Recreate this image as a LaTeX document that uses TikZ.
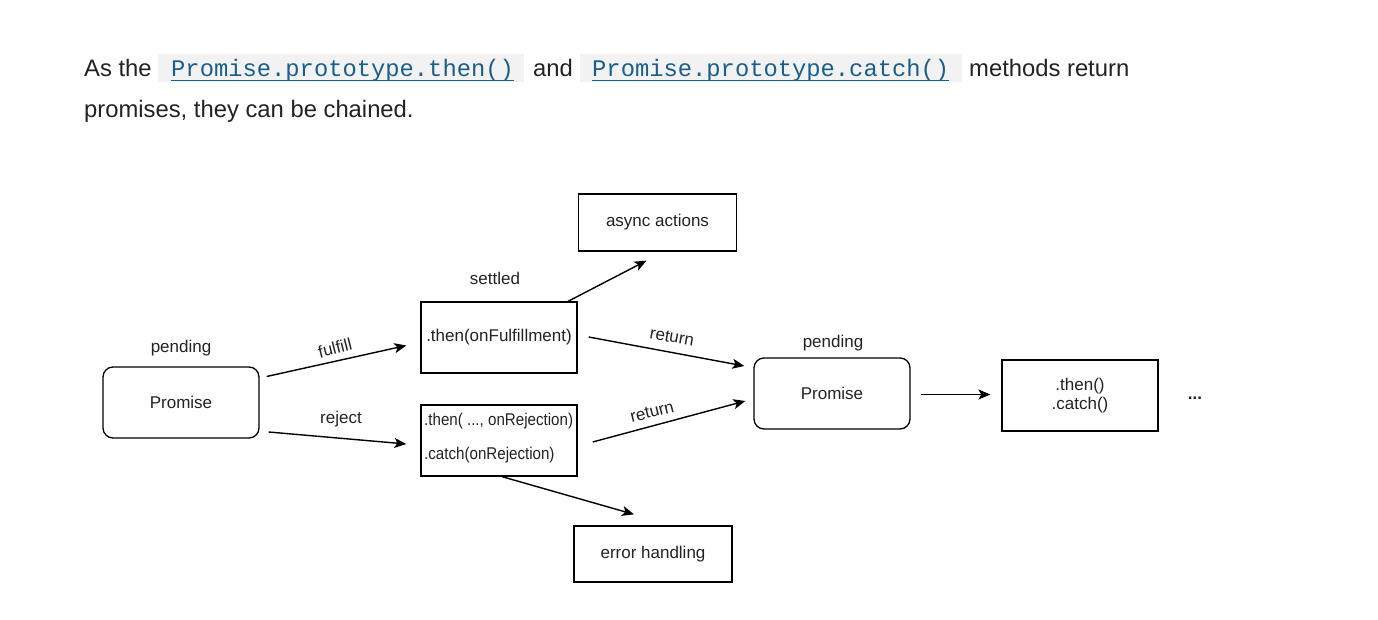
\documentclass[tikz,border=0pt]{standalone}
\usepackage{fontspec}
\setmainfont{Liberation Sans}
\setmonofont{Liberation Mono}
\newfontfamily\narrowsans[FakeStretch=0.89]{Liberation Sans}
\usetikzlibrary{arrows.meta,calc}
\definecolor{codeblue}{HTML}{1B5E8C}
\definecolor{codebg}{HTML}{F2F2F2}
\definecolor{txt}{HTML}{222222}
\begin{document}
\begin{tikzpicture}[x=1pt,y=-1pt,
  para/.style={inner sep=0pt, anchor=base west, text=txt, font=\fontsize{23.8}{28}\selectfont},
  code/.style={inner sep=0pt, anchor=base west, text=codeblue, font=\ttfamily\fontsize{23.8}{28}\selectfont},
  box/.style={draw=black, line width=1.3pt, minimum width=156pt, minimum height=71pt, inner sep=0pt, text=txt, font=\fontsize{17}{19}\selectfont, align=center},
  rbox/.style={box, rounded corners=10pt},
  lbl/.style={inner sep=0pt, text=txt, font=\fontsize{17}{19}\selectfont},
  arr/.style={line width=1.4pt, -{Stealth[length=12pt,width=10pt,inset=3pt]}}
]
\useasboundingbox (0,0) rectangle (1378,620);
% paragraph
\node[para] (t1) at (84,77) {As the};
\fill[codebg] (158,54) rectangle (524,82);
\node[code] (c1) at (171,77) {Promise.prototype.then()};
\node[para] (t2) at (533,77) {and};
\fill[codebg] (580,54) rectangle (962,82);
\node[code] (c2) at (592,77) {Promise.prototype.catch()};
\node[para] (t3) at (969,77) {methods return};
\node[para] (t4) at (84,118) {promises, they can be chained.};
\draw[codeblue, line width=1.3pt] ($(c1.base west)+(0,3.5)$) -- ($(c1.base east)+(0,3.5)$);
\draw[codeblue, line width=1.3pt] ($(c2.base west)+(0,3.5)$) -- ($(c2.base east)+(0,3.5)$);
% nodes
\node[rbox] (p1) at (181,402.5) {Promise};
\node[box] (ful) at (499,337.5) {.then(onFulfillment)};
\node[box] (rej) at (499,440.5) {};
\node[lbl, anchor=west, font=\narrowsans\fontsize{17}{19}\selectfont] (rej1) at (424,421) {.then( ..., onRejection)};
\node[lbl, anchor=west, font=\narrowsans\fontsize{17}{19}\selectfont] (rej2) at (424,455) {.catch(onRejection)};
\node[box, minimum width=158pt, minimum height=57pt] (async) at (657.5,222.5) {async actions};
\node[box, minimum width=158pt, minimum height=56pt] (err) at (653,554) {error handling};
\node[rbox] (p2) at (832,393.5) {Promise};
\node[box] (tc) at (1080,395.5) {.then()\\.catch()};
\node[lbl] (l1) at (181,348) {pending};
\node[lbl] (l2) at (495,278) {settled};
\node[lbl] (l3) at (833,343) {pending};
\node[lbl, font=\bfseries\fontsize{17}{19}\selectfont] (dots) at (1195,398) {...};
% connector endpoints
\coordinate (f1) at ($(p1.east)+(7,-26)$);
\coordinate (f2) at ($(ful.west)+(-14,8)$);
\coordinate (r1) at ($(p1.east)+(9,29.5)$);
\coordinate (r2) at ($(rej.west)+(-14,3.5)$);
\coordinate (a1) at ($(ful.north)+(69,0)$);
\coordinate (a2) at ($(async.south)+(-11,9)$);
\coordinate (u1) at ($(ful.east)+(11,-0.5)$);
\coordinate (u2) at ($(p2.west)+(-9,-27.5)$);
\coordinate (d1) at ($(rej.east)+(15,1.5)$);
\coordinate (d2) at ($(p2.west)+(-8,7.5)$);
\coordinate (e1) at ($(rej.south)+(3,0)$);
\coordinate (e2) at ($(err.north)+(-19,-11)$);
\coordinate (n1) at ($(p2.east)+(10,1)$);
\coordinate (n2) at ($(tc.west)+(-11,-1)$);
% connectors
\draw[arr] (f1) -- (f2);
\draw[arr] (r1) -- (r2);
\draw[arr] (a1) -- (a2);
\draw[arr] (u1) -- (u2);
\draw[arr] (d1) -- (d2);
\draw[arr] (e1) -- (e2);
\draw[arr] (n1) -- (n2);
% labels
\node[lbl, rotate=14] (lf) at (335,348) {fulfill};
\node[lbl] (lr) at (341,419) {reject};
\node[lbl, rotate=-10] (lu) at (672,337) {return};
\node[lbl, rotate=14] (ld) at (652,412) {return};
\end{tikzpicture}
\end{document}
